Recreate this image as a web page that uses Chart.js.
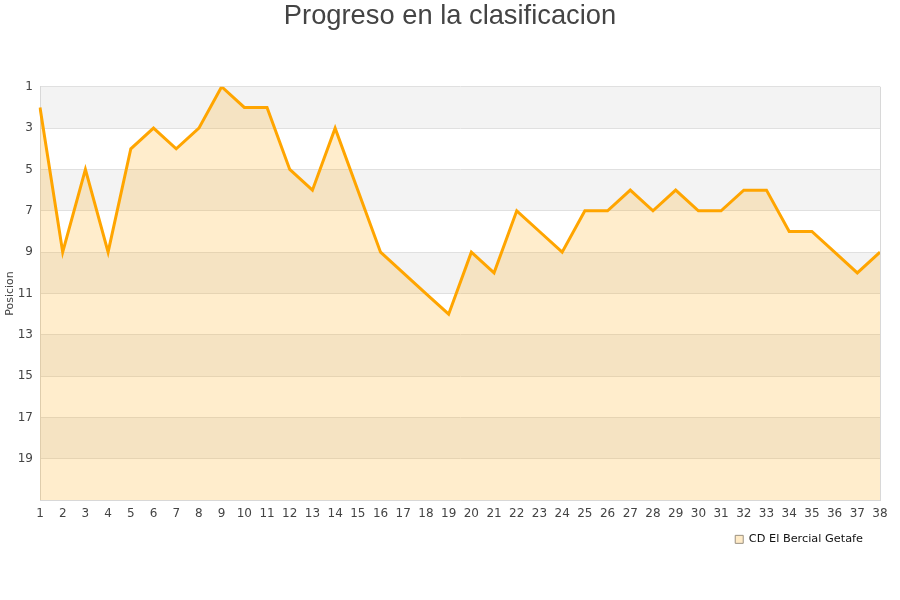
<!DOCTYPE html>
<html>
<head>
<meta charset="utf-8">
<script src="https://cdn.jsdelivr.net/npm/chart.js@4"></script>
<style>
  html, body { margin: 0; padding: 0; background: #fff; }
  #wrap { width: 900px; height: 600px; }
</style>
</head>
<body>
<div id="wrap"><canvas id="chart"></canvas></div>
<script>
// jornadas 1..38
const jornadas = ['1','2','3','4','5','6','7','8','9','10','11','12','13','14','15','16','17','18','19',
  '20','21','22','23','24','25','26','27','28','29','30','31','32','33','34','35','36','37','38'];
// posicion en cada jornada
const posiciones = [2, 9, 5, 9, 4, 3, 4, 3, 1, 2, 2, 5, 6, 3, 6, 9, 10, 11, 12,
  9, 10, 7, 8, 9, 7, 7, 6, 7, 6, 7, 7, 6, 6, 8, 8, 9, 10, 9];
// franjas grises del fondo
const franjas = [[1, 3], [5, 7], [9, 11], [13, 15], [17, 19]];
const equipo = 'CD El Bercial Getafe';

// bands + frame behind the data
const bandsPlugin = {
  id: 'bands',
  afterLayout(chart) {
    // legend a bit in from the right edge, title centred on the page
    chart.legend.left -= 10;
    chart.legend.right -= 10;
    chart.titleBlock.left += 10;
    chart.titleBlock.right += 10;
  },
  beforeDraw(chart) {
    const { ctx, chartArea: a, scales } = chart;
    const y = scales.y;
    ctx.save();
    ctx.fillStyle = '#f3f3f3';
    franjas.forEach(([from, to]) => {
      const y1 = y.getPixelForValue(from);
      const y2 = y.getPixelForValue(to);
      ctx.fillRect(a.left, y1, a.right - a.left, y2 - y1);
    });
    ctx.restore();
  },
  afterDraw(chart) {
    const { ctx, chartArea: a } = chart;
    ctx.save();
    ctx.strokeStyle = '#d8d8d8';
    ctx.lineWidth = 1;
    ctx.beginPath();
    ctx.moveTo(a.right + 0.5, a.top);
    ctx.lineTo(a.right + 0.5, a.bottom);
    ctx.stroke();
    ctx.restore();
  }
};

const ctx = document.getElementById('chart').getContext('2d');
new Chart(ctx, {
  type: 'line',
  data: {
    labels: jornadas,
    datasets: [{
      label: equipo,
      data: posiciones,
      borderColor: '#FFA500',
      borderWidth: 3,
      backgroundColor: 'rgba(255,165,0,0.2)',
      fill: 'start',
      tension: 0,
      pointRadius: 0,
      pointHoverRadius: 0,
    }],
  },
  options: {
    responsive: true,
    maintainAspectRatio: false,
    animation: false,
    layout: { padding: { left: 0, right: 20, top: 0, bottom: 45 } },
    plugins: {
      title: {
        display: true,
        text: 'Progreso en la clasificacion',
        font: { size: 27.3, family: 'Liberation Sans', weight: 'normal' },
        color: '#444',
        padding: { top: 0, bottom: 54 },
      },
      legend: {
        display: true,
        position: 'bottom',
        align: 'end',
        labels: {
          boxWidth: 8,
          boxHeight: 8,
          color: '#111',
          padding: 7,
          font: { size: 11.3, family: 'DejaVu Sans' },
          generateLabels: (chart) => [{
            text: equipo,
            fillStyle: 'rgba(255,165,0,0.22)',
            strokeStyle: '#9a9080',
            lineWidth: 1,
            fontColor: '#111',
            datasetIndex: 0,
          }],
        },
      },
      tooltip: { enabled: false },
    },
    scales: {
      x: {
        offset: false,
        grid: { display: false, drawTicks: false },
        border: { display: true, color: '#d8d8d8' },
        ticks: {
          autoSkip: false,
          maxRotation: 0,
          color: '#444',
          padding: 6,
          font: { size: 12, family: 'DejaVu Sans' },
        },
      },
      y: {
        reverse: true,
        min: 1,
        max: 21,
        afterFit: (scale) => { scale.width = 40; },
        grid: { color: '#e0e0e0', drawTicks: false },
        border: { display: true, color: '#d8d8d8' },
        title: {
          display: true,
          text: 'Posicion',
          color: '#444',
          font: { size: 11, family: 'DejaVu Sans' },
          padding: { top: 4, bottom: 0 },
        },
        ticks: {
          stepSize: 2,
          color: '#444',
          padding: 7,
          font: { size: 12, family: 'DejaVu Sans' },
          callback: (v) => (v === 21 ? '' : v),
        },
      },
    },
  },
  plugins: [bandsPlugin],
});
</script>
</body>
</html>
